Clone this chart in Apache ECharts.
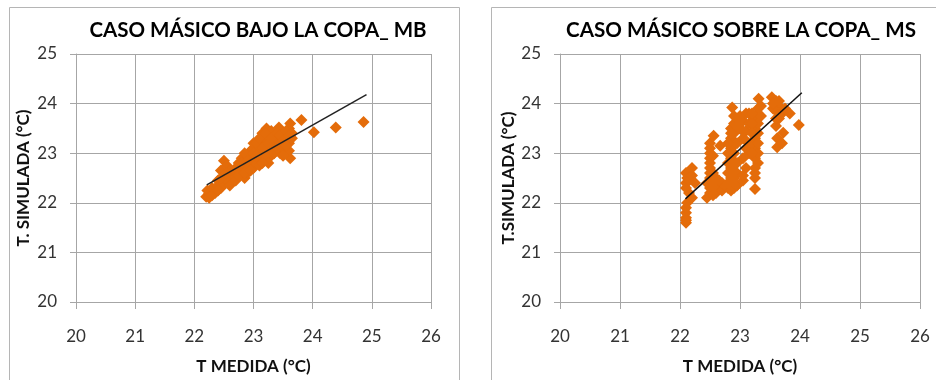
<!DOCTYPE html>
<html><head><meta charset="utf-8">
<script src="https://cdn.jsdelivr.net/npm/echarts@6/dist/echarts.min.js"></script>
<style>html,body{margin:0;padding:0;background:#fff}#c{width:936px;height:380px}</style>
</head><body><div id="c"></div>
<script>
const titles = ['CASO MÁSICO BAJO LA COPA_ MB', 'CASO MÁSICO SOBRE LA COPA_ MS'];
const yNames = ['T. SIMULADA (°C)', 'T.SIMULADA (°C)'];
const xName = 'T MEDIDA (°C)';
const xTicks = [20, 21, 22, 23, 24, 25, 26];
const yTicks = [20, 21, 22, 23, 24, 25];

const mbPoints = [
  [22.2,22.12],[22.25,22.18],[22.3,22.22],[22.22,22.25],[22.3,22.3],[22.35,22.25],[22.4,22.35],[22.45,22.3],
  [22.4,22.45],[22.5,22.4],[22.5,22.55],[22.45,22.65],[22.5,22.85],[22.55,22.75],[22.6,22.5],[22.65,22.6],
  [22.6,22.4],[22.7,22.7],[22.7,22.55],[22.75,22.8],[22.8,22.65],[22.8,22.9],[22.85,22.5],[22.85,22.75],
  [22.9,22.6],[22.9,22.95],[22.95,22.8],[22.95,23.05],[23.0,22.7],[23.0,22.9],[23.0,23.1],[23.05,22.8],
  [23.1,23.0],[23.1,23.2],[23.1,22.75],[23.15,22.9],[23.2,23.1],[23.2,23.3],[23.22,23.5],[23.25,23.0],
  [23.3,23.2],[23.3,22.95],[23.35,23.1],[23.35,23.35],[23.4,23.25],[23.43,23.52],[23.45,23.0],[23.45,23.2],
  [23.5,23.4],[23.5,23.1],[23.55,23.3],[23.6,23.5],[23.62,23.6],[23.6,23.2],[23.62,22.9],[23.6,23.05],
  [23.65,23.4],[23.65,23.3],[23.2,22.95],[23.05,23.05],[22.9,22.7],[22.75,22.65],[22.65,22.5],[22.55,22.45],
  [22.35,22.2],[22.6,22.65],[22.85,23.0],[23.0,23.2],[23.15,23.4],[23.3,23.45],[23.25,22.8],
  [22.25,22.1],[22.3,22.15],[22.4,22.25],[22.45,22.5],[22.55,22.6],[22.6,22.35],[22.7,22.45],[22.75,22.55],
  [22.8,22.8],[22.85,22.6],[22.9,22.85],[22.95,22.65],[23.0,23.0],[23.05,22.95],[23.05,23.2],[23.1,23.3],
  [23.15,23.1],[23.15,22.8],[23.2,23.4],[23.25,23.2],[23.3,23.3],[23.35,23.0],[23.4,23.4],[23.4,23.1],
  [23.45,23.35],[23.5,23.25],[23.55,23.45],[23.55,23.15],[23.6,23.35],[23.5,22.95],
  [23.81,23.67],[24.02,23.42],[24.39,23.52],[24.86,23.63]
];
const mbTrend = [[22.21,22.36],[24.91,24.18]];

const msPoints = [
  [22.1,21.6],[22.1,21.7],[22.1,21.8],[22.1,21.9],[22.12,22.0],[22.1,22.3],[22.1,22.4],[22.12,22.5],
  [22.1,22.6],[22.15,22.45],[22.2,22.55],[22.2,22.7],[22.25,22.4],[22.2,22.1],[22.15,22.2],[22.1,21.65],
  [22.45,22.1],[22.5,22.2],[22.5,22.3],[22.45,22.4],[22.5,22.5],[22.5,22.6],[22.5,22.7],[22.5,22.8],
  [22.5,22.9],[22.5,23.0],[22.5,23.1],[22.5,23.2],[22.55,22.15],[22.56,23.35],[22.67,23.15],[22.55,22.95],
  [22.6,22.3],[22.6,22.2],[22.7,22.25],[22.75,22.35],[22.8,22.3],[22.85,22.25],[22.9,22.3],[22.95,22.35],
  [22.7,22.4],[22.65,22.45],[22.8,22.4],[22.6,22.5],[22.55,22.4],[22.55,22.6],
  [22.85,22.5],[22.85,22.7],[22.85,22.9],[22.85,23.1],[22.85,23.3],[22.85,23.5],[22.87,23.92],[22.9,23.6],
  [22.9,23.4],[22.9,23.0],[22.95,23.2],[22.95,22.8],[22.95,23.7],[23.0,23.5],[22.95,22.6],[22.9,22.4],
  [22.8,22.6],[22.8,22.8],[22.8,23.0],[22.8,23.2],[22.85,23.4],[22.9,23.75],[22.95,23.55],[22.9,22.5],
  [23.05,22.45],[23.05,22.9],[23.05,23.3],[23.05,23.65],[23.1,23.1],[23.1,22.7],[23.1,23.45],[23.1,23.8],
  [23.15,23.6],[23.15,23.0],[23.05,22.55],[23.0,23.75],[23.05,23.45],[23.1,23.25],[23.15,23.8],
  [23.25,22.28],[23.25,22.5],[23.25,22.7],[23.25,22.9],[23.25,23.1],[23.25,23.3],[23.25,23.5],[23.25,23.7],
  [23.3,23.8],[23.3,23.9],[23.31,24.1],[23.3,23.6],[23.3,23.4],[23.3,23.0],[23.35,23.75],[23.2,23.2],[23.2,23.6],
  [23.2,23.4],[23.2,23.0],[23.25,22.6],[23.3,22.8],[23.3,23.2],[23.2,23.8],[23.35,23.95],
  [23.53,24.13],[23.6,24.05],[23.65,23.95],[23.6,23.85],[23.65,23.7],[23.6,23.55],[23.62,23.3],[23.62,23.12],
  [23.7,23.2],[23.72,23.41],[23.7,23.8],[23.75,23.9],[23.83,23.8],[23.98,23.57],[23.55,23.9],[23.55,24.0],
  [23.65,24.05],[23.6,23.7]
];
const msTrend = [[22.09,22.08],[24.03,24.22]];

const FONT = 'Lato, "Open Sans", sans-serif';
const ORANGE = '#e46c0a';
const GRID = '#a6a6a6';

function xAxis(i) {
  return {
    gridIndex: i, type: 'value', min: xTicks[0], max: xTicks[xTicks.length-1], interval: 1,
    name: xName, nameLocation: 'middle', nameGap: 56,
    nameTextStyle: {fontFamily: FONT, fontWeight: 'bold', fontSize: 17, color: '#111'},
    axisLine: {show: true, lineStyle: {color: GRID, width: 1}},
    axisTick: {show: true, length: 7, lineStyle: {color: GRID}},
    axisLabel: {fontFamily: FONT, fontSize: 17, color: '#333', margin: 26},
    splitLine: {show: true, lineStyle: {color: GRID, width: 1}}
  };
}
function yAxis(i) {
  return {
    gridIndex: i, type: 'value', min: yTicks[0], max: yTicks[yTicks.length-1], interval: 1,
    name: yNames[i], nameLocation: 'middle', nameGap: i === 0 ? 44 : 43, nameRotate: 90,
    nameTextStyle: {fontFamily: FONT, fontWeight: 'bold', fontSize: 17, color: '#111'},
    axisLine: {show: true, lineStyle: {color: GRID, width: 1}},
    axisTick: {show: true, length: 6, lineStyle: {color: GRID}},
    axisLabel: {fontFamily: FONT, fontSize: 17, color: '#333', margin: 19},
    splitLine: {show: true, lineStyle: {color: GRID, width: 1}}
  };
}

const chart = echarts.init(document.getElementById('c'), null, {renderer: 'canvas'});
chart.setOption({
  backgroundColor: '#fff',
  animation: false,
  title: [
    {text: titles[0], left: 253, top: 15, textAlign: 'center',
     textStyle: {fontFamily: FONT, fontWeight: 'bold', fontSize: 20.5, color: '#000'}},
    {text: titles[1], left: 736, top: 15, textAlign: 'center',
     textStyle: {fontFamily: FONT, fontWeight: 'bold', fontSize: 20.6, color: '#000'}}
  ],
  graphic: [
    {type: 'rect', shape: {x: 9.5, y: 7.5, width: 450, height: 400}, style: {fill: null, stroke: '#b5b5b5', lineWidth: 1}, z: -1},
    {type: 'rect', shape: {x: 491.5, y: 7.5, width: 460, height: 400}, style: {fill: null, stroke: '#b5b5b5', lineWidth: 1}, z: -1}
  ],
  grid: [
    {left: 76, top: 54, width: 355, height: 251},
    {left: 560, top: 54, width: 360, height: 254}
  ],
  xAxis: [xAxis(0), xAxis(1)],
  yAxis: [yAxis(0), yAxis(1)],
  series: [
    {type: 'scatter', xAxisIndex: 0, yAxisIndex: 0, data: mbPoints, symbol: 'diamond', symbolSize: 12,
     itemStyle: {color: ORANGE, opacity: 1}},
    {type: 'line', xAxisIndex: 0, yAxisIndex: 0, data: mbTrend, symbol: 'none',
     lineStyle: {color: '#222', width: 1.5}, z: 5},
    {type: 'scatter', xAxisIndex: 1, yAxisIndex: 1, data: msPoints, symbol: 'diamond', symbolSize: 12,
     itemStyle: {color: ORANGE, opacity: 1}},
    {type: 'line', xAxisIndex: 1, yAxisIndex: 1, data: msTrend, symbol: 'none',
     lineStyle: {color: '#111', width: 1.5}, z: 5}
  ]
});
</script>
</body></html>
